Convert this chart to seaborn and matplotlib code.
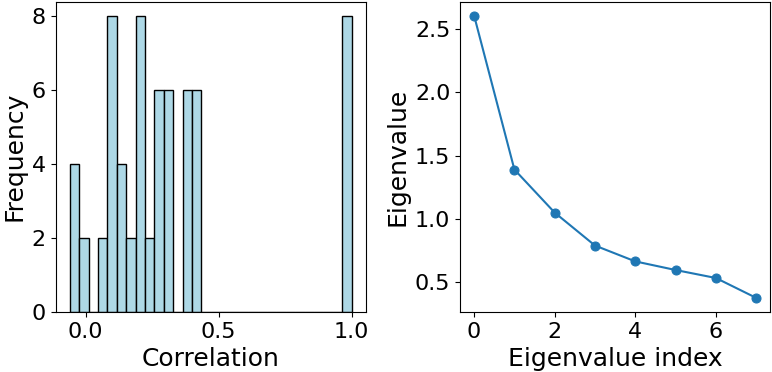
import numpy as np
import pandas as pd
import matplotlib
matplotlib.use("Agg")
import matplotlib.pyplot as plt
import seaborn as sns

# Unique off-diagonal correlations (each appears twice in a symmetric 8x8 matrix)
pair_correlations = [-0.06, -0.04, 0.0, 0.065, 0.085, 0.095, 0.10, 0.11,
                     0.13, 0.14, 0.17, 0.19, 0.20, 0.21, 0.215, 0.24,
                     0.265, 0.275, 0.285, 0.30, 0.31, 0.32,
                     0.37, 0.38, 0.39, 0.41, 0.42, 0.43]
diagonal = [1.0] * 8
correlations = pair_correlations * 2 + diagonal

eigen_index = [0, 1, 2, 3, 4, 5, 6, 7]
eigenvalues = [2.605, 1.39, 1.05, 0.79, 0.665, 0.597, 0.534, 0.377]

plt.rcParams['font.family'] = ['DejaVu Sans']
fig = plt.figure(figsize=(7.72, 3.72), dpi=100)
W, H = 772, 372
ax1 = fig.add_axes([55.7 / W, 1 - 312 / H, 310 / W, 310.5 / H])
ax2 = fig.add_axes([460 / W, 1 - 312 / H, 310.3 / W, 310.5 / H])

sns.histplot(x=correlations, bins=30, color='lightblue', edgecolor='black',
             linewidth=1, alpha=1, ax=ax1)
ax1.set_xlabel('Correlation', fontsize=18)
ax1.set_ylabel('Frequency', fontsize=18)
ax1.set_xticks([0.0, 0.5, 1.0])
ax1.tick_params(labelsize=16)

df = pd.DataFrame({'idx': eigen_index, 'ev': eigenvalues})
sns.lineplot(data=df, x='idx', y='ev', marker='o', color='#1f77b4',
             markeredgecolor='#1f77b4', markersize=6.5, ax=ax2)
ax2.set_xlabel('Eigenvalue index', fontsize=18)
ax2.set_ylabel('Eigenvalue', fontsize=18)
ax2.set_xticks([0, 2, 4, 6])
ax2.set_yticks([0.5, 1.0, 1.5, 2.0, 2.5])
ax2.tick_params(labelsize=16)

fig.savefig('out.png', dpi=100)
